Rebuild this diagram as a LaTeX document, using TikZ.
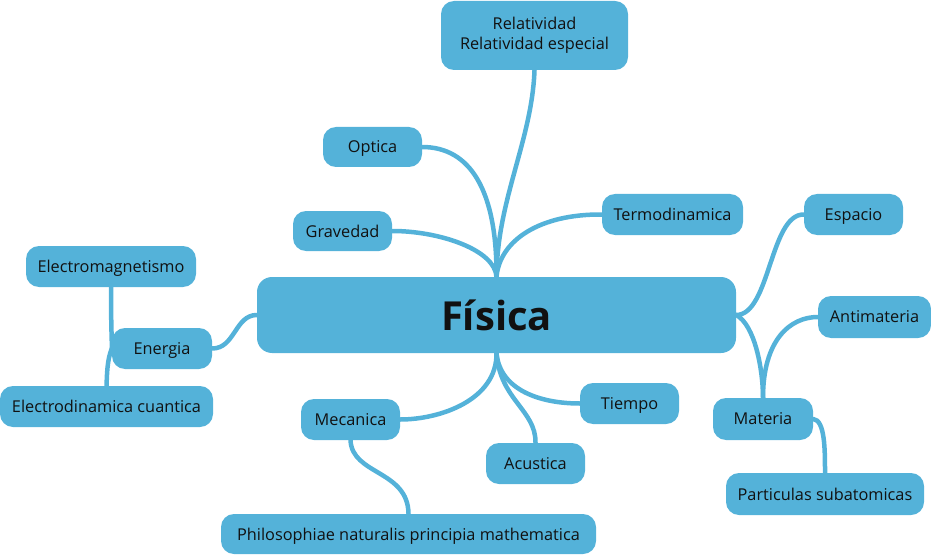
\documentclass[tikz,border=0pt]{standalone}
\usepackage{fontspec}
\setmainfont{Open Sans}
\usetikzlibrary{backgrounds}
\definecolor{mmblue}{HTML}{54B2D9}
\definecolor{mmtext}{HTML}{111111}
\begin{document}
\begin{tikzpicture}[x=1pt,y=-1pt,
  topic/.style={fill=mmblue,rounded corners=13pt,inner sep=0pt,text=mmtext,
    font=\fontsize{16.3}{20}\selectfont,align=center,text depth=0pt},
  link/.style={draw=mmblue,line width=4.5pt,line cap=round}]
\useasboundingbox (0,0) rectangle (931,556);
\node[topic,rounded corners=15pt,minimum width=479pt,minimum height=76pt,font=\fontsize{40}{44}\selectfont\bfseries] (F) at (496.5,315) {Física};
\node[topic,minimum width=187pt,minimum height=69pt,text depth=4pt] (R) at (534.5,35.5) {Relatividad\\Relatividad especial};
\node[topic,minimum width=99pt,minimum height=40pt] (O) at (372.5,147) {Optica};
\node[topic,minimum width=99pt,minimum height=40pt] (G) at (342.5,231) {Gravedad};
\node[topic,minimum width=141pt,minimum height=41pt] (T) at (672.5,214.5) {Termodinamica};
\node[topic,minimum width=99pt,minimum height=41pt] (Es) at (853.5,214.5) {Espacio};
\node[topic,minimum width=170pt,minimum height=41pt] (Em) at (111,266.5) {Electromagnetismo};
\node[topic,minimum width=113pt,minimum height=42pt] (An) at (874.5,317) {Antimateria};
\node[topic,minimum width=100pt,minimum height=41pt] (En) at (162,348.5) {Energia};
\node[topic,minimum width=213pt,minimum height=41pt] (Ed) at (106.5,406.5) {Electrodinamica cuantica};
\node[topic,minimum width=99pt,minimum height=41pt] (Me) at (350.5,419.5) {Mecanica};
\node[topic,minimum width=99pt,minimum height=41pt] (Ti) at (629.5,403.5) {Tiempo};
\node[topic,minimum width=100pt,minimum height=42pt] (Ma) at (763,419) {Materia};
\node[topic,minimum width=99pt,minimum height=41pt] (Ac) at (535.5,463.5) {Acustica};
\node[topic,minimum width=198pt,minimum height=42pt] (P) at (825,494) {Particulas subatomicas};
\node[topic,minimum width=375pt,minimum height=40pt] (Ph) at (408.5,534) {Philosophiae naturalis principia mathematica};
\begin{scope}[on background layer]
\draw[link] (F.north) .. controls (497,200) and (532,140) .. (R.south);
\draw[link] (F.north) .. controls (497,190) and (470,147) .. (O.east);
\draw[link] (F.north) .. controls (495,250) and (440,231) .. (G.east);
\draw[link] (F.north) .. controls (500,240) and (540,214) .. (T.west);
\draw[link] (F.east) .. controls (770,315) and (770,214) .. (Es.west);
\draw[link] (F.east) .. controls (755,325) and (763,370) .. (Ma.north);
\draw[link] (Ma.north) .. controls (763,340) and (790,317) .. (An.west);
\draw[link] (Ma.east) .. controls (825,420) and (825,450) .. (P.north);
\draw[link] (F.west) .. controls (235,315) and (235,348.5) .. (En.east);
\draw[link] (Em.south) .. controls (111,330) and (112,340) .. (En.west);
\draw[link] (En.west) .. controls (107,360) and (107,375) .. (Ed.north);
\draw[link] (F.south) .. controls (497,400) and (440,419.5) .. (Me.east);
\draw[link] (F.south) .. controls (500,390) and (540,403.5) .. (Ti.west);
\draw[link] (F.south) .. controls (500,400) and (536,410) .. (Ac.north);
\draw[link] (Me.south) .. controls (352,475) and (408,470) .. (Ph.north);
\end{scope}
\end{tikzpicture}
\end{document}
